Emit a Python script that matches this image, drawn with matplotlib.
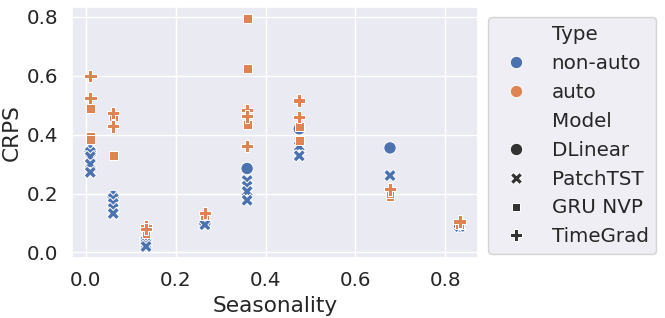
import pandas as pd
import matplotlib
matplotlib.use("Agg")
import matplotlib.pyplot as plt
import seaborn as sns

# seasonality of each dataset
seasonality = [0.01, 0.061, 0.134, 0.265, 0.359, 0.475, 0.677, 0.832]

# CRPS per dataset (several horizons per dataset)
dlinear = [[0.345], [0.19], [0.04], [0.10], [0.285], [0.42], [0.355], [0.09]]
patchtst = [[0.34, 0.325, 0.30, 0.272], [0.183, 0.166, 0.149, 0.132],
            [0.038, 0.028, 0.02], [0.094], [0.244, 0.225, 0.207, 0.177],
            [0.36, 0.328], [0.261], [0.088]]
gru_nvp = [[0.488, 0.395, 0.383], [0.46, 0.328], [0.075, 0.065], [0.125],
           [0.795, 0.626, 0.434], [0.428, 0.381], [0.19, 0.20], [0.095]]
timegrad = [[0.60, 0.524], [0.473, 0.428], [0.09, 0.08], [0.133],
            [0.484, 0.462, 0.361], [0.516, 0.46], [0.214], [0.105]]

models = ["DLinear", "PatchTST", "GRU NVP", "TimeGrad"]
types = ["non-auto", "non-auto", "auto", "auto"]
results = [dlinear, patchtst, gru_nvp, timegrad]

rows = []
for model, typ, res in zip(models, types, results):
    for s, vals in zip(seasonality, res):
        for v in vals:
            rows.append({"Seasonality": s, "CRPS": v, "Model": model, "Type": typ})
df = pd.DataFrame(rows)

sns.set_theme(style="darkgrid", font_scale=1.3)
fig = plt.figure(figsize=(6.65, 3.18), dpi=100)
ax = fig.add_axes([0.108, 0.189, 0.611, 0.789])
sns.scatterplot(data=df, x="Seasonality", y="CRPS", hue="Type", style="Model",
                s=80, ax=ax)
ax.legend(loc="upper left", bbox_to_anchor=(1, 1))
fig.savefig("out.png", dpi=100)
